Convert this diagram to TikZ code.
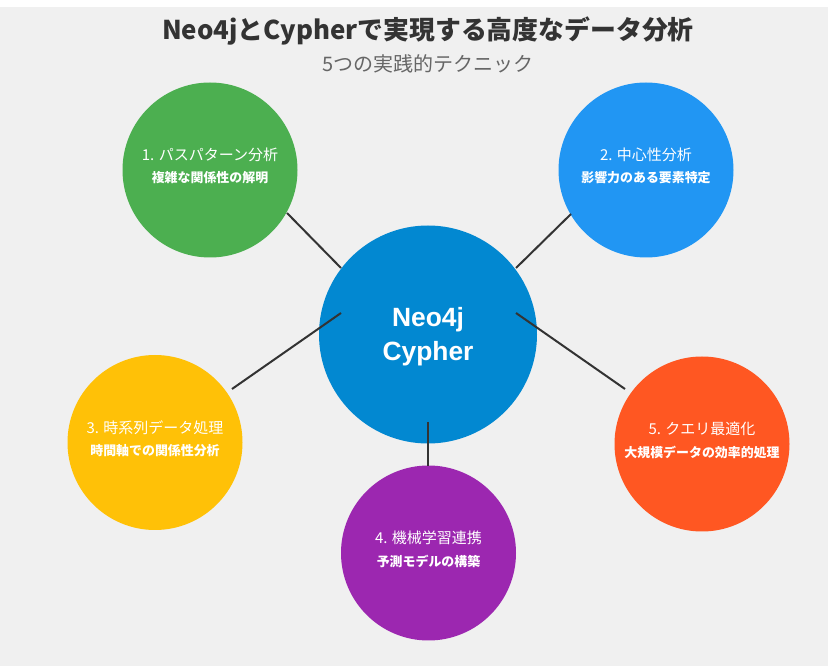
\documentclass[tikz,border=0pt]{standalone}
\usepackage{fontspec}
\setmainfont{Noto Sans CJK JP}
\newfontfamily\hubfont{Liberation Sans}

\definecolor{canvas}{HTML}{F0F0F0}
\definecolor{ink}{HTML}{333333}
\definecolor{subink}{HTML}{666666}
\definecolor{hubblue}{HTML}{0288D1}
\definecolor{cgreen}{HTML}{4CAF50}
\definecolor{cblue}{HTML}{2196F3}
\definecolor{cyellow}{HTML}{FFC107}
\definecolor{cpurple}{HTML}{9C27B0}
\definecolor{corange}{HTML}{FF5722}

\begin{document}
\begin{tikzpicture}[x=0.75pt,y=-0.75pt,
  disc/.style={circle, draw=none, inner sep=0pt, minimum size=131.25pt},
  hubdisc/.style={circle, draw=none, inner sep=0pt, minimum size=163.5pt, fill=hubblue},
  link/.style={draw=ink, line width=1.5pt},
  ttl/.style={text=white, inner sep=0pt, font=\fontsize{11.25}{13}\selectfont},
  sub/.style={text=white, inner sep=0pt, font=\bfseries\fontsize{9.7}{11}\selectfont},
  hubtext/.style={text=white, align=center, inner sep=0pt, font=\hubfont\bfseries\fontsize{19.8}{25.5}\selectfont},
  headline/.style={text=ink, inner sep=0pt, font=\bfseries\fontsize{19.4}{22}\selectfont},
  tagline/.style={text=subink, inner sep=0pt, font=\fontsize{15}{18}\selectfont}
]
% page and backdrop
\useasboundingbox (0,0) rectangle (829,666);
\fill[white] (0,0) rectangle (829,666);
\fill[canvas] (0,7) rectangle (828,666);

% headings
\node[headline] (head) at (428,31) {Neo4jとCypherで実現する高度なデータ分析};
\node[tagline] (tag) at (428,64) {5つの実践的テクニック};

% satellite discs
\node[disc, fill=cgreen]  (pp) at (210,170) {};
\node[disc, fill=cblue]   (cn) at (646,170) {};
\node[disc, fill=cyellow] (ts) at (155,442.5) {};
\node[disc, fill=cpurple] (ml) at (428.5,553) {};
\node[disc, fill=corange] (qo) at (702,444) {};

% central disc
\node[hubdisc] (hub) at (428,334.5) {};
\node[hubtext] (hub-t) at ([yshift=-2pt]hub.center) {Neo4j\\Cypher};

% connector end points
\coordinate (h1) at ([shift={(-87,-66.5)}]hub.center);
\coordinate (h2) at ([shift={(88,-66.5)}]hub.center);
\coordinate (h3) at ([shift={(-87,-21.5)}]hub.center);
\coordinate (h4) at ([shift={(88,-21.5)}]hub.center);
\coordinate (h5) at ([shift={(0,87.5)}]hub.center);
\coordinate (s1) at ([shift={(77,43)}]pp.center);
\coordinate (s2) at ([shift={(-75,44)}]cn.center);
\coordinate (s3) at ([shift={(77,-53.5)}]ts.center);
\coordinate (s4) at ([shift={(-77,-55)}]qo.center);
\coordinate (s5) at ([shift={(-0.5,-87)}]ml.center);

% connectors
\draw[link] (h1) -- (s1);
\draw[link] (h2) -- (s2);
\draw[link] (h3) -- (s3);
\draw[link] (h4) -- (s4);
\draw[link] (h5) -- (s5);

% disc labels
\node[ttl] (pp-t) at ([yshift=11.25pt]pp.center) {1. パスパターン分析};
\node[sub] (pp-s) at ([yshift=-6pt]pp.center) {複雑な関係性の解明};
\node[ttl] (cn-t) at ([yshift=11.25pt]cn.center) {2. 中心性分析};
\node[sub] (cn-s) at ([yshift=-6pt]cn.center) {影響力のある要素特定};
\node[ttl] (ts-t) at ([yshift=11.25pt]ts.center) {3. 時系列データ処理};
\node[sub] (ts-s) at ([yshift=-6pt]ts.center) {時間軸での関係性分析};
\node[ttl] (ml-t) at ([yshift=11.25pt]ml.center) {4. 機械学習連携};
\node[sub] (ml-s) at ([yshift=-6pt]ml.center) {予測モデルの構築};
\node[ttl] (qo-t) at ([yshift=11.25pt]qo.center) {5. クエリ最適化};
\node[sub] (qo-s) at ([yshift=-6pt]qo.center) {大規模データの効率的処理};
\end{tikzpicture}
\end{document}
